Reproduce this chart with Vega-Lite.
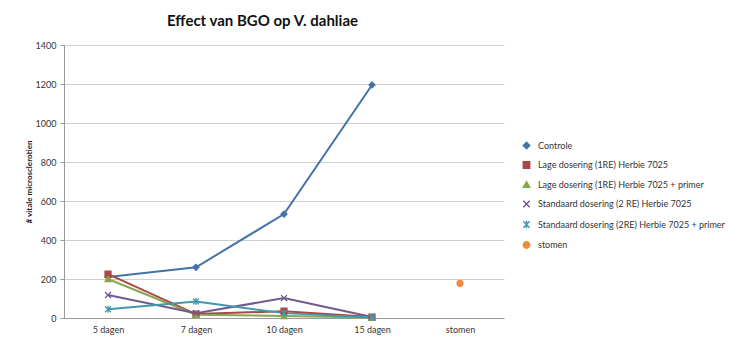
{
  "$schema": "https://vega.github.io/schema/vega-lite/v6.json",
  "autosize": "none",
  "width": 440,
  "height": 273,
  "padding": {"left": 64, "top": 45, "right": 229, "bottom": 20},
  "background": "white",
  "config": {
    "font": "Lato",
    "view": {"stroke": null},
    "axis": {"labelFont": "Lato", "labelColor": "#333", "labelFontSize": 9}
  },
  "title": {
    "text": "Effect van BGO op V. dahliae",
    "anchor": "start",
    "frame": "group",
    "dx": 103,
    "offset": 12,
    "fontSize": 15,
    "fontWeight": "bold",
    "font": "Lato",
    "color": "#111"
  },
  "data": {
    "values": [
      {"serie": "Controle", "dag": "5 dagen", "waarde": 210},
      {"serie": "Controle", "dag": "7 dagen", "waarde": 260},
      {"serie": "Controle", "dag": "10 dagen", "waarde": 533},
      {"serie": "Controle", "dag": "15 dagen", "waarde": 1195},
      {"serie": "Lage dosering (1RE) Herbie 7025", "dag": "5 dagen", "waarde": 225},
      {"serie": "Lage dosering (1RE) Herbie 7025", "dag": "7 dagen", "waarde": 20},
      {"serie": "Lage dosering (1RE) Herbie 7025", "dag": "10 dagen", "waarde": 35},
      {"serie": "Lage dosering (1RE) Herbie 7025", "dag": "15 dagen", "waarde": 5},
      {"serie": "Lage dosering (1RE) Herbie 7025 + primer", "dag": "5 dagen", "waarde": 200},
      {"serie": "Lage dosering (1RE) Herbie 7025 + primer", "dag": "7 dagen", "waarde": 17},
      {"serie": "Lage dosering (1RE) Herbie 7025 + primer", "dag": "10 dagen", "waarde": 10},
      {"serie": "Lage dosering (1RE) Herbie 7025 + primer", "dag": "15 dagen", "waarde": 3},
      {"serie": "Standaard dosering (2 RE) Herbie 7025", "dag": "5 dagen", "waarde": 118},
      {"serie": "Standaard dosering (2 RE) Herbie 7025", "dag": "7 dagen", "waarde": 25},
      {"serie": "Standaard dosering (2 RE) Herbie 7025", "dag": "10 dagen", "waarde": 102},
      {"serie": "Standaard dosering (2 RE) Herbie 7025", "dag": "15 dagen", "waarde": 5},
      {"serie": "Standaard dosering (2RE) Herbie 7025 + primer", "dag": "5 dagen", "waarde": 45},
      {"serie": "Standaard dosering (2RE) Herbie 7025 + primer", "dag": "7 dagen", "waarde": 85},
      {"serie": "Standaard dosering (2RE) Herbie 7025 + primer", "dag": "10 dagen", "waarde": 25},
      {"serie": "Standaard dosering (2RE) Herbie 7025 + primer", "dag": "15 dagen", "waarde": 3},
      {"serie": "stomen", "dag": "stomen", "waarde": 178}
    ]
  },
  "encoding": {
    "x": {
      "field": "dag",
      "type": "nominal",
      "sort": ["5 dagen", "7 dagen", "10 dagen", "15 dagen", "stomen"],
      "scale": {"type": "point", "padding": 0.5, "domain": ["5 dagen", "7 dagen", "10 dagen", "15 dagen", "stomen"]},
      "axis": {"title": null, "labelAngle": 0, "ticks": false, "labelPadding": 7, "domainColor": "#999", "grid": false}
    },
    "y": {
      "field": "waarde",
      "type": "quantitative",
      "scale": {"domain": [0, 1400], "nice": false},
      "axis": {
        "values": [0, 200, 400, 600, 800, 1000, 1200, 1400],
        "format": "d",
        "title": "# vitale microsclerotien",
        "titleFontSize": 8,
        "titleFontWeight": "bold",
        "titleColor": "#222",
        "titlePadding": 2,
        "gridColor": "#D0D0D0",
        "domainColor": "#999",
        "tickSize": 4,
        "tickColor": "#999",
        "labelPadding": 4
      }
    },
    "color": {
      "field": "serie",
      "type": "nominal",
      "scale": {
        "domain": ["Controle", "Lage dosering (1RE) Herbie 7025", "Lage dosering (1RE) Herbie 7025 + primer", "Standaard dosering (2 RE) Herbie 7025", "Standaard dosering (2RE) Herbie 7025 + primer", "stomen"],
        "range": ["#4572A7", "#AA4643", "#89A54E", "#71588F", "#4198AF", "#F08A3C"]
      },
      "legend": {
        "title": null,
        "orient": "none",
        "legendX": 458,
        "legendY": 96,
        "labelFontSize": 9,
        "labelColor": "#333",
        "labelOffset": 7,
        "rowPadding": 6.5,
        "symbolSize": 40,
        "labelLimit": 300
      }
    }
  },
  "layer": [
    {
      "mark": {"type": "line", "strokeWidth": 2},
      "encoding": {"detail": {"field": "serie"}}
    },
    {
      "mark": {"type": "point", "filled": true, "size": 35, "strokeWidth": 1.3, "opacity": 1},
      "encoding": {
        "shape": {
          "field": "serie",
          "type": "nominal",
          "scale": {
            "domain": ["Controle", "Lage dosering (1RE) Herbie 7025", "Lage dosering (1RE) Herbie 7025 + primer", "Standaard dosering (2 RE) Herbie 7025", "Standaard dosering (2RE) Herbie 7025 + primer", "stomen"],
            "range": ["diamond", "square", "triangle-up", "M-1,-1L1,1M-1,1L1,-1", "M-1,-1L1,1M-1,1L1,-1M0,-1.2L0,1.2", "circle"]
          }
        },
        "stroke": {
          "field": "serie",
          "type": "nominal",
          "scale": {
            "domain": ["Controle", "Lage dosering (1RE) Herbie 7025", "Lage dosering (1RE) Herbie 7025 + primer", "Standaard dosering (2 RE) Herbie 7025", "Standaard dosering (2RE) Herbie 7025 + primer", "stomen"],
            "range": ["#4572A7", "#AA4643", "#89A54E", "#71588F", "#4198AF", "#F08A3C"]
          },
          "legend": null
        }
      }
    }
  ]
}
